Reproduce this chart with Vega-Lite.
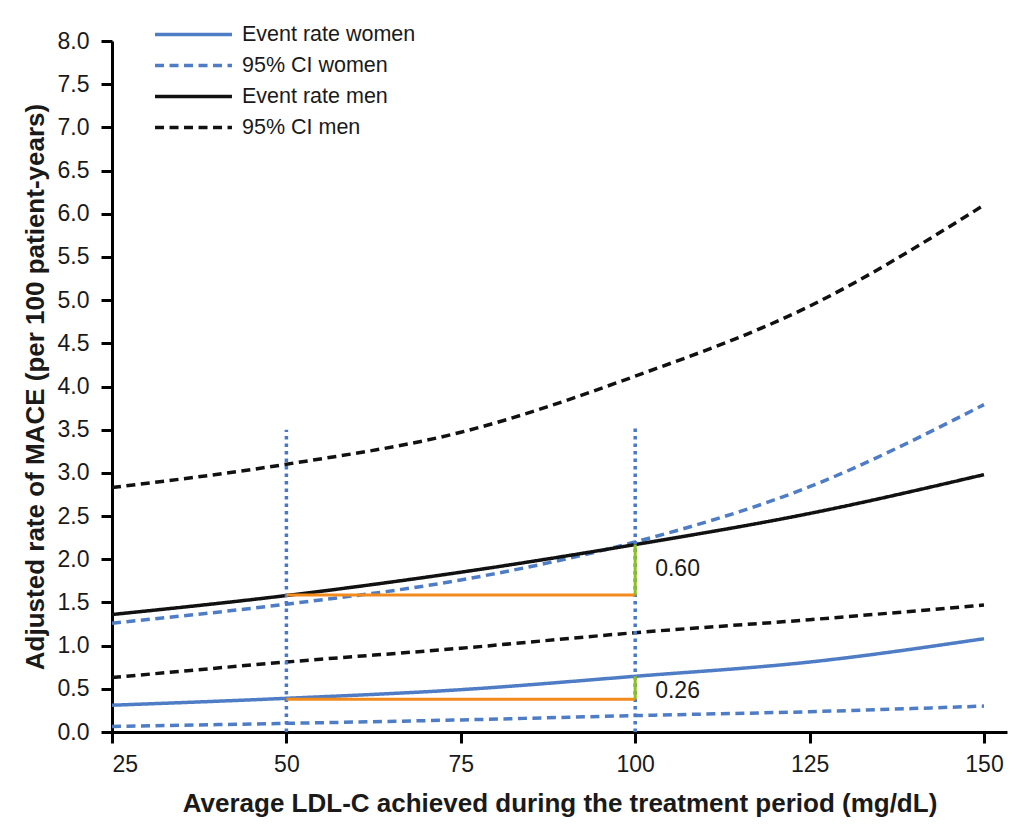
{
  "$schema": "https://vega.github.io/schema/vega-lite/v6.json",
  "width": 895,
  "height": 691,
  "autosize": {"type": "none"},
  "padding": {"left": 112, "top": 41, "right": 8, "bottom": 103},
  "background": "white",
  "config": {
    "view": {"stroke": null},
    "font": "Liberation Sans",
    "axis": {
      "labelFont": "Liberation Sans",
      "titleFont": "Liberation Sans",
      "labelColor": "#1a1a1a",
      "titleColor": "#1a1a1a",
      "domainColor": "#000000",
      "tickColor": "#000000",
      "domainWidth": 3,
      "tickWidth": 3,
      "tickSize": 11,
      "grid": false,
      "labelFontSize": 23,
      "titleFontSize": 26,
      "titleFontWeight": "bold"
    }
  },
  "datasets": {
    "curves": [
      {"curve": "w_rate", "series": "Event rate women", "ldl": 25, "rate": 0.31},
      {"curve": "w_rate", "series": "Event rate women", "ldl": 50, "rate": 0.39},
      {"curve": "w_rate", "series": "Event rate women", "ldl": 75, "rate": 0.49},
      {"curve": "w_rate", "series": "Event rate women", "ldl": 100, "rate": 0.645},
      {"curve": "w_rate", "series": "Event rate women", "ldl": 125, "rate": 0.81},
      {"curve": "w_rate", "series": "Event rate women", "ldl": 150, "rate": 1.08},
      {"curve": "w_lo", "series": "95% CI women", "ldl": 25, "rate": 0.065},
      {"curve": "w_lo", "series": "95% CI women", "ldl": 50, "rate": 0.10},
      {"curve": "w_lo", "series": "95% CI women", "ldl": 75, "rate": 0.14},
      {"curve": "w_lo", "series": "95% CI women", "ldl": 100, "rate": 0.19},
      {"curve": "w_lo", "series": "95% CI women", "ldl": 125, "rate": 0.235},
      {"curve": "w_lo", "series": "95% CI women", "ldl": 150, "rate": 0.30},
      {"curve": "w_hi", "series": "95% CI women", "ldl": 25, "rate": 1.26},
      {"curve": "w_hi", "series": "95% CI women", "ldl": 50, "rate": 1.48},
      {"curve": "w_hi", "series": "95% CI women", "ldl": 75, "rate": 1.76},
      {"curve": "w_hi", "series": "95% CI women", "ldl": 100, "rate": 2.20},
      {"curve": "w_hi", "series": "95% CI women", "ldl": 125, "rate": 2.84},
      {"curve": "w_hi", "series": "95% CI women", "ldl": 150, "rate": 3.79},
      {"curve": "m_rate", "series": "Event rate men", "ldl": 25, "rate": 1.36},
      {"curve": "m_rate", "series": "Event rate men", "ldl": 50, "rate": 1.58},
      {"curve": "m_rate", "series": "Event rate men", "ldl": 75, "rate": 1.85},
      {"curve": "m_rate", "series": "Event rate men", "ldl": 100, "rate": 2.17},
      {"curve": "m_rate", "series": "Event rate men", "ldl": 125, "rate": 2.53},
      {"curve": "m_rate", "series": "Event rate men", "ldl": 150, "rate": 2.98},
      {"curve": "m_lo", "series": "95% CI men", "ldl": 25, "rate": 0.63},
      {"curve": "m_lo", "series": "95% CI men", "ldl": 50, "rate": 0.81},
      {"curve": "m_lo", "series": "95% CI men", "ldl": 75, "rate": 0.97},
      {"curve": "m_lo", "series": "95% CI men", "ldl": 100, "rate": 1.15},
      {"curve": "m_lo", "series": "95% CI men", "ldl": 125, "rate": 1.30},
      {"curve": "m_lo", "series": "95% CI men", "ldl": 150, "rate": 1.47},
      {"curve": "m_hi", "series": "95% CI men", "ldl": 25, "rate": 2.83},
      {"curve": "m_hi", "series": "95% CI men", "ldl": 50, "rate": 3.10},
      {"curve": "m_hi", "series": "95% CI men", "ldl": 75, "rate": 3.47},
      {"curve": "m_hi", "series": "95% CI men", "ldl": 100, "rate": 4.12},
      {"curve": "m_hi", "series": "95% CI men", "ldl": 125, "rate": 4.93},
      {"curve": "m_hi", "series": "95% CI men", "ldl": 150, "rate": 6.10}
    ],
    "verticals": [
      {"ldl": 50, "y0": 0, "y1": 3.5},
      {"ldl": 100, "y0": 0, "y1": 3.55}
    ],
    "diffs": [
      {"x0": 50, "x1": 100, "ref": 1.585, "top": 2.17, "label": "0.60", "labely": 1.89},
      {"x0": 50, "x1": 100, "ref": 0.38, "top": 0.645, "label": "0.26", "labely": 0.47}
    ]
  },
  "encoding": {
    "x": {
      "type": "quantitative",
      "scale": {"domain": [25, 153.3], "nice": false, "zero": false},
      "axis": {"values": [25, 50, 75, 100, 125, 150], "labelPadding": 10, "titlePadding": 14, "title": "Average LDL-C achieved during the treatment period (mg/dL)"}
    },
    "y": {
      "type": "quantitative",
      "scale": {"domain": [0, 8], "nice": false},
      "axis": {"values": [0, 0.5, 1, 1.5, 2, 2.5, 3, 3.5, 4, 4.5, 5, 5.5, 6, 6.5, 7, 7.5, 8], "format": ".1f", "labelPadding": 12, "titlePadding": 9, "title": "Adjusted rate of MACE (per 100 patient-years)"}
    }
  },
  "layer": [
    {
      "data": {"name": "curves"},
      "mark": {"type": "line", "interpolate": "monotone", "strokeWidth": 3.5, "clip": false},
      "encoding": {
        "x": {"field": "ldl"},
        "y": {"field": "rate"},
        "detail": {"field": "curve"},
        "color": {
          "field": "series", "type": "nominal",
          "scale": {"domain": ["Event rate women", "95% CI women", "Event rate men", "95% CI men"], "range": ["#4f7dc5", "#4f7dc5", "#111111", "#111111"]},
          "legend": {
            "title": null, "orient": "none", "legendX": 70, "legendY": -18,
            "symbolType": "M-4,0L4,0", "symbolSize": 370, "symbolStrokeWidth": 3.5,
            "labelFont": "Liberation Sans", "labelFontSize": 21.5, "labelColor": "#1a1a1a", "labelLimit": 400,
            "labelOffset": 37, "rowPadding": 9, "padding": 0
          }
        },
        "strokeDash": {
          "field": "series", "type": "nominal",
          "scale": {"domain": ["Event rate women", "95% CI women", "Event rate men", "95% CI men"], "range": [[1, 0], [9, 5.5], [1, 0], [9, 5.5]]},
          "legend": {
            "title": null, "orient": "none", "legendX": 70, "legendY": -18,
            "symbolType": "M-4,0L4,0", "symbolSize": 370, "symbolStrokeWidth": 3.5,
            "labelFont": "Liberation Sans", "labelFontSize": 21.5, "labelColor": "#1a1a1a", "labelLimit": 400,
            "labelOffset": 37, "rowPadding": 9, "padding": 0
          }
        }
      }
    },
    {
      "data": {"name": "verticals"},
      "mark": {"type": "rule", "color": "#4a78c8", "strokeWidth": 3.5, "strokeDash": [3.5, 4]},
      "encoding": {
        "x": {"field": "ldl"},
        "y": {"field": "y0"},
        "y2": {"field": "y1"}
      }
    },
    {
      "data": {"name": "diffs"},
      "mark": {"type": "rule", "color": "#f28a1c", "strokeWidth": 3},
      "encoding": {
        "x": {"field": "x0"},
        "x2": {"field": "x1"},
        "y": {"field": "ref"}
      }
    },
    {
      "data": {"name": "diffs"},
      "mark": {"type": "rule", "color": "#8cc21e", "strokeWidth": 3},
      "encoding": {
        "x": {"field": "x1"},
        "y": {"field": "ref"},
        "y2": {"field": "top"}
      }
    },
    {
      "data": {"name": "diffs"},
      "mark": {"type": "text", "align": "left", "baseline": "middle", "dx": 20, "fontSize": 23, "font": "Liberation Sans", "color": "#1a1a1a"},
      "encoding": {
        "x": {"field": "x1"},
        "y": {"field": "labely"},
        "text": {"field": "label"}
      }
    }
  ]
}
